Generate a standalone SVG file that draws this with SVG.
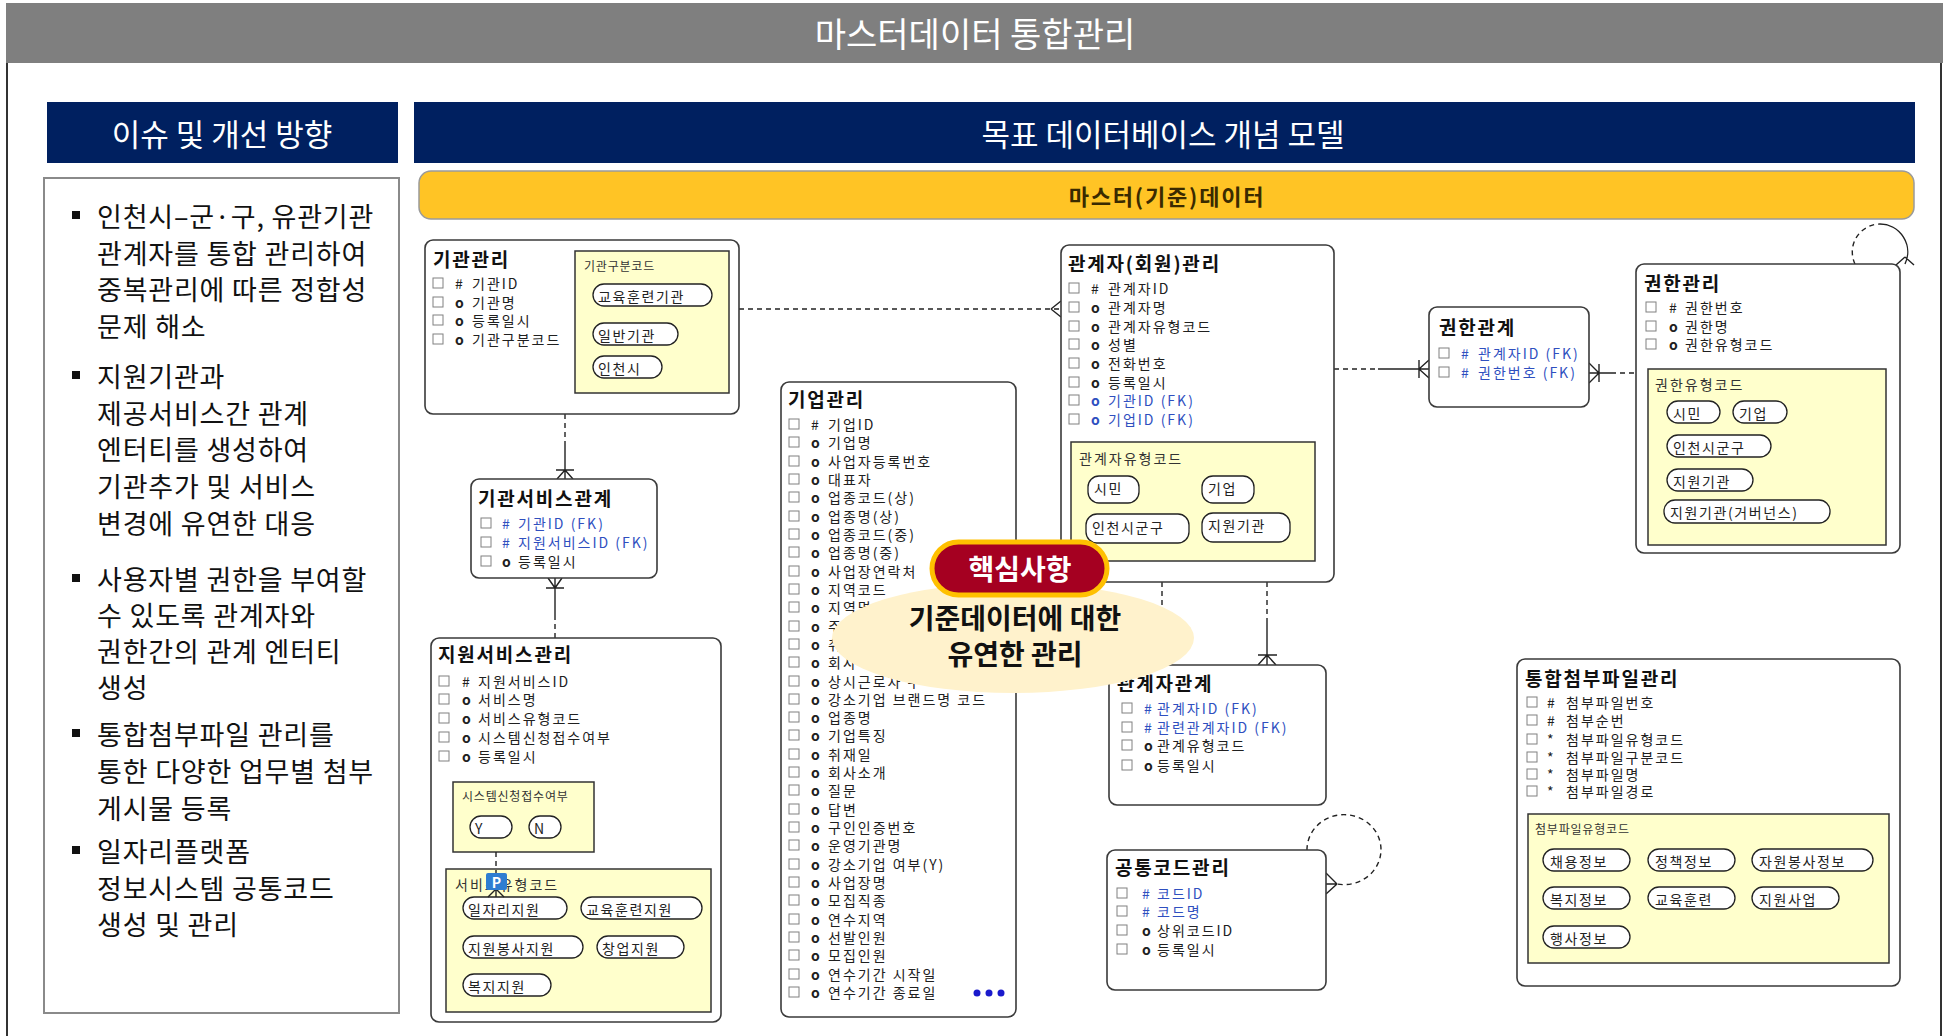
<svg xmlns="http://www.w3.org/2000/svg" width="1951" height="1036" viewBox="0 0 1951 1036">
<defs>
<style>
text{font-family:"Noto Sans CJK KR","Noto Sans",sans-serif;dominant-baseline:central}
.ent{fill:#fff;stroke:#3a3a3a;stroke-width:1.6}
.sub{fill:#FFFFCC;stroke:#333;stroke-width:1.5}
.pill{fill:#fff;stroke:#222;stroke-width:1.3}
.cb{fill:#fff;stroke:#808080;stroke-width:1}
.et{font-size:19px;font-weight:bold;letter-spacing:1.8px;fill:#111}
.at{font-size:14px;letter-spacing:2px;fill:#202020}
.fk{fill:#2F4FBF}
.mk{font-weight:bold}
.sl{font-size:12px;letter-spacing:0.8px;fill:#333}
.sl2{font-size:14px;letter-spacing:2px;fill:#333}
.pt{font-size:14px;letter-spacing:1.6px;fill:#222}
.ln{stroke:#222;stroke-width:1.4;fill:none}
.dl{stroke-dasharray:5 4}
.bul{font-size:27px;letter-spacing:0.8px;fill:#111}
.hd{fill:#fff}
</style>
</defs>

<!-- frame and headers -->
<rect x="7" y="62" width="1934" height="990" fill="#fff" stroke="#333" stroke-width="2"/>
<rect x="6" y="3" width="1937" height="60" fill="#7F7F7F"/>
<text class="hd" x="975" y="32" font-size="34" text-anchor="middle">마스터데이터 통합관리</text>
<rect x="47" y="102" width="351" height="61" fill="#002060"/>
<text class="hd" x="222" y="132" font-size="31" text-anchor="middle">이슈 및 개선 방향</text>
<rect x="414" y="102" width="1501" height="61" fill="#002060"/>
<text class="hd" x="1163" y="132" font-size="31" text-anchor="middle">목표 데이터베이스 개념 모델</text>
<rect x="419" y="171" width="1495" height="48" rx="12" fill="#FFC425" stroke="#9a9a9a" stroke-width="1.5"/>
<text x="1167" y="195" font-size="22" font-weight="bold" letter-spacing="1.8" fill="#3a2a00" text-anchor="middle">마스터(기준)데이터</text>

<!-- left issue box -->
<g id="issues">
<rect x="44" y="178" width="355" height="835" fill="#fff" stroke="#8a8a8a" stroke-width="2"/>
<rect x="72" y="211" width="8" height="8" fill="#111"/>
<text class="bul" x="97" y="215">인천시–군·구, 유관기관</text>
<text class="bul" x="97" y="252">관계자를 통합 관리하여</text>
<text class="bul" x="97" y="288">중복관리에 따른 정합성</text>
<text class="bul" x="97" y="325">문제 해소</text>
<rect x="72" y="371" width="8" height="8" fill="#111"/>
<text class="bul" x="97" y="375">지원기관과</text>
<text class="bul" x="97" y="412">제공서비스간 관계</text>
<text class="bul" x="97" y="448">엔터티를 생성하여</text>
<text class="bul" x="97" y="485">기관추가 및 서비스</text>
<text class="bul" x="97" y="522">변경에 유연한 대응</text>
<rect x="72" y="574" width="8" height="8" fill="#111"/>
<text class="bul" x="97" y="578">사용자별 권한을 부여할</text>
<text class="bul" x="97" y="614">수 있도록 관계자와</text>
<text class="bul" x="97" y="650">권한간의 관계 엔터티</text>
<text class="bul" x="97" y="686">생성</text>
<rect x="72" y="729" width="8" height="8" fill="#111"/>
<text class="bul" x="97" y="733">통합첨부파일 관리를</text>
<text class="bul" x="97" y="770">통한 다양한 업무별 첨부</text>
<text class="bul" x="97" y="807">게시물 등록</text>
<rect x="72" y="846" width="8" height="8" fill="#111"/>
<text class="bul" x="97" y="850">일자리플랫폼</text>
<text class="bul" x="97" y="887">정보시스템 공통코드</text>
<text class="bul" x="97" y="923">생성 및 관리</text>
</g>

<!-- connectors -->
<g id="connectors">
<path class="ln dl" d="M565,414 V443"/>
<path class="ln" d="M565,443 V479 M556,470 H574 M565,470 L557,479 M565,470 L573,479"/>
<path class="ln" d="M555,578 V615 M546,588 H564 M548,578 L555,588 M562,578 L555,588"/>
<path class="ln dl" d="M555,615 V638"/>
<path class="ln dl" d="M739,309 H1061"/>
<path class="ln" d="M1051,309 L1061,301 M1051,309 L1061,317"/>
<path class="ln dl" d="M1334,369 H1378"/>
<path class="ln" d="M1378,369 H1429 M1419,360 V378 M1419,369 L1429,360 M1419,369 L1429,378"/>
<path class="ln" d="M1589,373 H1611 M1599,364 V382 M1589,363 L1599,373 M1589,383 L1599,373"/>
<path class="ln dl" d="M1611,373 H1636"/>
<path class="ln dl" d="M1162,582 V665"/>
<path class="ln dl" d="M1267,582 V622"/>
<path class="ln" d="M1267,622 V665 M1258,655 H1277 M1267,655 L1258,665 M1267,655 L1276,665"/>
<path class="ln dl" d="M1855,264 A28,28 0 0 1 1880,224"/>
<path class="ln" d="M1880,224 A28,28 0 0 1 1905,264 M1905,257 L1896,265 M1905,257 L1914,265"/>
<path class="ln dl" d="M1307,850 A37,35 0 1 1 1337,884"/>
<path class="ln" d="M1326,873 L1337,884 M1326,884 H1337 M1326,894 L1337,884"/>
<path class="ln dl" d="M496,852 V873"/>
<path class="ln" d="M496,889 V897 M496,889 L488,897 M496,889 L504,897"/>
</g>

<!-- 기관관리 -->
<g id="n-gigwan">
<rect class="ent" x="425" y="240" width="314" height="174" rx="8"/>
<text class="et" x="433" y="258">기관관리</text>
<rect class="cb" x="433" y="278" width="10" height="10"/><text class="at" y="283"><tspan x="455">#</tspan><tspan x="472">기관ID</tspan></text>
<rect class="cb" x="433" y="297" width="10" height="10"/><text class="at" y="302"><tspan class="mk" x="455">o</tspan><tspan x="472">기관명</tspan></text>
<rect class="cb" x="433" y="315" width="10" height="10"/><text class="at" y="320"><tspan class="mk" x="455">o</tspan><tspan x="472">등록일시</tspan></text>
<rect class="cb" x="433" y="334" width="10" height="10"/><text class="at" y="339"><tspan class="mk" x="455">o</tspan><tspan x="472">기관구분코드</tspan></text>
<rect class="sub" x="575" y="251" width="154" height="142"/>
<text class="sl" x="584" y="265">기관구분코드</text>
<rect class="pill" x="593" y="284" width="119" height="22" rx="11"/><text class="pt" x="598" y="296">교육훈련기관</text>
<rect class="pill" x="593" y="323" width="85" height="22" rx="11"/><text class="pt" x="598" y="335">일반기관</text>
<rect class="pill" x="593" y="356" width="69" height="22" rx="11"/><text class="pt" x="598" y="368">인천시</text>
</g>

<!-- 기관서비스관계 -->
<g id="n-gigwanservice">
<rect class="ent" x="471" y="479" width="186" height="99" rx="8"/>
<text class="et" x="478" y="497">기관서비스관계</text>
<rect class="cb" x="481" y="518" width="10" height="10"/><text class="at fk" y="523"><tspan x="502">#</tspan><tspan x="518">기관ID (FK)</tspan></text>
<rect class="cb" x="481" y="537" width="10" height="10"/><text class="at fk" y="542"><tspan x="502">#</tspan><tspan x="518">지원서비스ID (FK)</tspan></text>
<rect class="cb" x="481" y="556" width="10" height="10"/><text class="at" y="561"><tspan class="mk" x="502">o</tspan><tspan x="518">등록일시</tspan></text>
</g>

<!-- 지원서비스관리 -->
<g id="n-service">
<rect class="ent" x="431" y="638" width="290" height="384" rx="8"/>
<text class="et" x="438" y="653">지원서비스관리</text>
<rect class="cb" x="439" y="676" width="10" height="10"/><text class="at" y="681"><tspan x="462">#</tspan><tspan x="478">지원서비스ID</tspan></text>
<rect class="cb" x="439" y="694" width="10" height="10"/><text class="at" y="699"><tspan class="mk" x="462">o</tspan><tspan x="478">서비스명</tspan></text>
<rect class="cb" x="439" y="713" width="10" height="10"/><text class="at" y="718"><tspan class="mk" x="462">o</tspan><tspan x="478">서비스유형코드</tspan></text>
<rect class="cb" x="439" y="732" width="10" height="10"/><text class="at" y="737"><tspan class="mk" x="462">o</tspan><tspan x="478">시스템신청접수여부</tspan></text>
<rect class="cb" x="439" y="751" width="10" height="10"/><text class="at" y="756"><tspan class="mk" x="462">o</tspan><tspan x="478">등록일시</tspan></text>
<rect class="sub" x="453" y="782" width="141" height="70"/>
<text class="sl" x="462" y="795">시스템신청접수여부</text>
<rect class="pill" x="470" y="816" width="42" height="22" rx="11"/><text class="pt" x="475" y="828">Y</text>
<rect class="pill" x="529" y="816" width="32" height="22" rx="11"/><text class="pt" x="534" y="828">N</text>
<rect class="sub" x="446" y="869" width="265" height="143"/>
<text class="sl2" x="455" y="884">서비스유형코드</text>
<rect class="pill" x="463" y="897" width="104" height="22" rx="11"/><text class="pt" x="468" y="909">일자리지원</text>
<rect class="pill" x="581" y="897" width="121" height="22" rx="11"/><text class="pt" x="586" y="909">교육훈련지원</text>
<rect class="pill" x="463" y="936" width="120" height="22" rx="11"/><text class="pt" x="468" y="948">지원봉사지원</text>
<rect class="pill" x="597" y="936" width="87" height="22" rx="11"/><text class="pt" x="602" y="948">창업지원</text>
<rect class="pill" x="463" y="974" width="88" height="22" rx="11"/><text class="pt" x="468" y="986">복지지원</text>
<path class="ln dl" d="M496,852 V873"/>
<path class="ln" d="M496,889 V897 M496,889 L488,897 M496,889 L504,897"/>
<rect x="486" y="873" width="21" height="17" rx="2" fill="#2E7DD1"/>
<text x="496.5" y="882" font-size="14" font-weight="bold" fill="#fff" text-anchor="middle">P</text>
</g>

<!-- 기업관리 -->
<g id="n-company">
<rect class="ent" x="781" y="382" width="235" height="635" rx="8"/>
<text class="et" x="788" y="398">기업관리</text>
<rect class="cb" x="789" y="419" width="10" height="10"/><text class="at" y="424"><tspan x="811">#</tspan><tspan x="828">기업ID</tspan></text>
<rect class="cb" x="789" y="437" width="10" height="10"/><text class="at" y="442.3"><tspan class="mk" x="811">o</tspan><tspan x="828">기업명</tspan></text>
<rect class="cb" x="789" y="456" width="10" height="10"/><text class="at" y="460.6"><tspan class="mk" x="811">o</tspan><tspan x="828">사업자등록번호</tspan></text>
<rect class="cb" x="789" y="474" width="10" height="10"/><text class="at" y="479"><tspan class="mk" x="811">o</tspan><tspan x="828">대표자</tspan></text>
<rect class="cb" x="789" y="492" width="10" height="10"/><text class="at" y="497.3"><tspan class="mk" x="811">o</tspan><tspan x="828">업종코드(상)</tspan></text>
<rect class="cb" x="789" y="511" width="10" height="10"/><text class="at" y="515.6"><tspan class="mk" x="811">o</tspan><tspan x="828">업종명(상)</tspan></text>
<rect class="cb" x="789" y="529" width="10" height="10"/><text class="at" y="533.9"><tspan class="mk" x="811">o</tspan><tspan x="828">업종코드(중)</tspan></text>
<rect class="cb" x="789" y="547" width="10" height="10"/><text class="at" y="552.2"><tspan class="mk" x="811">o</tspan><tspan x="828">업종명(중)</tspan></text>
<rect class="cb" x="789" y="566" width="10" height="10"/><text class="at" y="570.6"><tspan class="mk" x="811">o</tspan><tspan x="828">사업장연락처</tspan></text>
<rect class="cb" x="789" y="584" width="10" height="10"/><text class="at" y="588.9"><tspan class="mk" x="811">o</tspan><tspan x="828">지역코드</tspan></text>
<rect class="cb" x="789" y="602" width="10" height="10"/><text class="at" y="607.2"><tspan class="mk" x="811">o</tspan><tspan x="828">지역명</tspan></text>
<rect class="cb" x="789" y="621" width="10" height="10"/><text class="at" y="625.5"><tspan class="mk" x="811">o</tspan><tspan x="828">주소</tspan></text>
<rect class="cb" x="789" y="639" width="10" height="10"/><text class="at" y="643.8"><tspan class="mk" x="811">o</tspan><tspan x="828">취업</tspan></text>
<rect class="cb" x="789" y="657" width="10" height="10"/><text class="at" y="662.2"><tspan class="mk" x="811">o</tspan><tspan x="828">회사</tspan></text>
<rect class="cb" x="789" y="676" width="10" height="10"/><text class="at" y="680.5"><tspan class="mk" x="811">o</tspan><tspan x="828">상시근로자 수</tspan></text>
<rect class="cb" x="789" y="694" width="10" height="10"/><text class="at" y="698.8"><tspan class="mk" x="811">o</tspan><tspan x="828">강소기업 브랜드명 코드</tspan></text>
<rect class="cb" x="789" y="712" width="10" height="10"/><text class="at" y="717.1"><tspan class="mk" x="811">o</tspan><tspan x="828">업종명</tspan></text>
<rect class="cb" x="789" y="730" width="10" height="10"/><text class="at" y="735.4"><tspan class="mk" x="811">o</tspan><tspan x="828">기업특징</tspan></text>
<rect class="cb" x="789" y="749" width="10" height="10"/><text class="at" y="753.8"><tspan class="mk" x="811">o</tspan><tspan x="828">취재일</tspan></text>
<rect class="cb" x="789" y="767" width="10" height="10"/><text class="at" y="772.1"><tspan class="mk" x="811">o</tspan><tspan x="828">회사소개</tspan></text>
<rect class="cb" x="789" y="785" width="10" height="10"/><text class="at" y="790.4"><tspan class="mk" x="811">o</tspan><tspan x="828">질문</tspan></text>
<rect class="cb" x="789" y="804" width="10" height="10"/><text class="at" y="808.7"><tspan class="mk" x="811">o</tspan><tspan x="828">답변</tspan></text>
<rect class="cb" x="789" y="822" width="10" height="10"/><text class="at" y="827"><tspan class="mk" x="811">o</tspan><tspan x="828">구인인증번호</tspan></text>
<rect class="cb" x="789" y="840" width="10" height="10"/><text class="at" y="845.4"><tspan class="mk" x="811">o</tspan><tspan x="828">운영기관명</tspan></text>
<rect class="cb" x="789" y="859" width="10" height="10"/><text class="at" y="863.7"><tspan class="mk" x="811">o</tspan><tspan x="828">강소기업 여부(Y)</tspan></text>
<rect class="cb" x="789" y="877" width="10" height="10"/><text class="at" y="882"><tspan class="mk" x="811">o</tspan><tspan x="828">사업장명</tspan></text>
<rect class="cb" x="789" y="895" width="10" height="10"/><text class="at" y="900.3"><tspan class="mk" x="811">o</tspan><tspan x="828">모집직종</tspan></text>
<rect class="cb" x="789" y="914" width="10" height="10"/><text class="at" y="918.6"><tspan class="mk" x="811">o</tspan><tspan x="828">연수지역</tspan></text>
<rect class="cb" x="789" y="932" width="10" height="10"/><text class="at" y="937"><tspan class="mk" x="811">o</tspan><tspan x="828">선발인원</tspan></text>
<rect class="cb" x="789" y="950" width="10" height="10"/><text class="at" y="955.3"><tspan class="mk" x="811">o</tspan><tspan x="828">모집인원</tspan></text>
<rect class="cb" x="789" y="969" width="10" height="10"/><text class="at" y="973.6"><tspan class="mk" x="811">o</tspan><tspan x="828">연수기간 시작일</tspan></text>
<rect class="cb" x="789" y="987" width="10" height="10"/><text class="at" y="992"><tspan class="mk" x="811">o</tspan><tspan x="828">연수기간 종료일</tspan></text>
<circle cx="977" cy="993" r="3.5" fill="#1A1ACC"/><circle cx="989" cy="993" r="3.5" fill="#1A1ACC"/><circle cx="1001" cy="993" r="3.5" fill="#1A1ACC"/>
</g>

<!-- 관계자(회원)관리 -->
<g id="n-member">
<rect class="ent" x="1061" y="245" width="273" height="337" rx="8"/>
<text class="et" x="1068" y="262">관계자(회원)관리</text>
<rect class="cb" x="1069" y="283" width="10" height="10"/><text class="at" y="288"><tspan x="1091">#</tspan><tspan x="1108">관계자ID</tspan></text>
<rect class="cb" x="1069" y="302" width="10" height="10"/><text class="at" y="307"><tspan class="mk" x="1091">o</tspan><tspan x="1108">관계자명</tspan></text>
<rect class="cb" x="1069" y="321" width="10" height="10"/><text class="at" y="326"><tspan class="mk" x="1091">o</tspan><tspan x="1108">관계자유형코드</tspan></text>
<rect class="cb" x="1069" y="339" width="10" height="10"/><text class="at" y="344"><tspan class="mk" x="1091">o</tspan><tspan x="1108">성별</tspan></text>
<rect class="cb" x="1069" y="358" width="10" height="10"/><text class="at" y="363"><tspan class="mk" x="1091">o</tspan><tspan x="1108">전화번호</tspan></text>
<rect class="cb" x="1069" y="377" width="10" height="10"/><text class="at" y="382"><tspan class="mk" x="1091">o</tspan><tspan x="1108">등록일시</tspan></text>
<rect class="cb" x="1069" y="395" width="10" height="10"/><text class="at fk" y="400"><tspan class="mk" x="1091">o</tspan><tspan x="1108">기관ID (FK)</tspan></text>
<rect class="cb" x="1069" y="414" width="10" height="10"/><text class="at fk" y="419"><tspan class="mk" x="1091">o</tspan><tspan x="1108">기업ID (FK)</tspan></text>
<rect class="sub" x="1071" y="442" width="244" height="119"/>
<text class="sl2" x="1079" y="458">관계자유형코드</text>
<rect class="pill" x="1088" y="476" width="51" height="27" rx="11"/><text class="pt" x="1094" y="488">시민</text>
<rect class="pill" x="1202" y="476" width="52" height="27" rx="11"/><text class="pt" x="1208" y="488">기업</text>
<rect class="pill" x="1086" y="514" width="103" height="29" rx="11"/><text class="pt" x="1092" y="527">인천시군구</text>
<rect class="pill" x="1202" y="513" width="88" height="29" rx="11"/><text class="pt" x="1208" y="525">지원기관</text>
</g>

<!-- 권한관계 -->
<g id="n-authrel">
<rect class="ent" x="1429" y="307" width="160" height="100" rx="8"/>
<text class="et" x="1439" y="326" font-size="21" letter-spacing="1">권한관계</text>
<rect class="cb" x="1439" y="348" width="10" height="10"/><text class="at fk" y="353" letter-spacing="1.5"><tspan x="1461">#</tspan><tspan x="1478">관계자ID (FK)</tspan></text>
<rect class="cb" x="1439" y="367" width="10" height="10"/><text class="at fk" y="372" letter-spacing="1.5"><tspan x="1461">#</tspan><tspan x="1478">권한번호 (FK)</tspan></text>
</g>

<!-- 권한관리 -->
<g id="n-auth">
<rect class="ent" x="1636" y="264" width="264" height="289" rx="8"/>
<text class="et" x="1644" y="282">권한관리</text>
<rect class="cb" x="1646" y="302" width="10" height="10"/><text class="at" y="307"><tspan x="1669">#</tspan><tspan x="1685">권한번호</tspan></text>
<rect class="cb" x="1646" y="321" width="10" height="10"/><text class="at" y="326"><tspan class="mk" x="1669">o</tspan><tspan x="1685">권한명</tspan></text>
<rect class="cb" x="1646" y="339" width="10" height="10"/><text class="at" y="344"><tspan class="mk" x="1669">o</tspan><tspan x="1685">권한유형코드</tspan></text>
<rect class="sub" x="1648" y="369" width="238" height="176"/>
<text class="sl2" x="1655" y="384">권한유형코드</text>
<rect class="pill" x="1667" y="401" width="53" height="22" rx="11"/><text class="pt" x="1673" y="413">시민</text>
<rect class="pill" x="1733" y="401" width="54" height="22" rx="11"/><text class="pt" x="1739" y="413">기업</text>
<rect class="pill" x="1667" y="435" width="104" height="22" rx="11"/><text class="pt" x="1673" y="447">인천시군구</text>
<rect class="pill" x="1667" y="469" width="86" height="22" rx="11"/><text class="pt" x="1673" y="481">지원기관</text>
<rect class="pill" x="1664" y="500" width="166" height="23" rx="11"/><text class="pt" x="1670" y="512" letter-spacing="2.3">지원기관(거버넌스)</text>
</g>

<!-- 관계자관계 -->
<g id="n-memberrel">
<rect class="ent" x="1109" y="665" width="217" height="140" rx="8"/>
<text class="et" x="1117" y="682">관계자관계</text>
<rect class="cb" x="1122" y="703" width="10" height="10"/><text class="at fk" y="708"><tspan x="1144">#</tspan><tspan x="1157">관계자ID (FK)</tspan></text>
<rect class="cb" x="1122" y="722" width="10" height="10"/><text class="at fk" y="727"><tspan x="1144">#</tspan><tspan x="1157">관련관계자ID (FK)</tspan></text>
<rect class="cb" x="1122" y="740" width="10" height="10"/><text class="at" y="745"><tspan class="mk" x="1144">o</tspan><tspan x="1157">관계유형코드</tspan></text>
<rect class="cb" x="1122" y="760" width="10" height="10"/><text class="at" y="765"><tspan class="mk" x="1144">o</tspan><tspan x="1157">등록일시</tspan></text>
</g>

<!-- 공통코드관리 -->
<g id="n-code">
<rect class="ent" x="1107" y="850" width="219" height="140" rx="8"/>
<text class="et" x="1115" y="866">공통코드관리</text>
<rect class="cb" x="1117" y="888" width="10" height="10"/><text class="at fk" y="893"><tspan x="1142">#</tspan><tspan x="1157">코드ID</tspan></text>
<rect class="cb" x="1117" y="906" width="10" height="10"/><text class="at fk" y="911"><tspan x="1142">#</tspan><tspan x="1157">코드명</tspan></text>
<rect class="cb" x="1117" y="925" width="10" height="10"/><text class="at" y="930"><tspan class="mk" x="1142">o</tspan><tspan x="1157">상위코드ID</tspan></text>
<rect class="cb" x="1117" y="944" width="10" height="10"/><text class="at" y="949"><tspan class="mk" x="1142">o</tspan><tspan x="1157">등록일시</tspan></text>
</g>

<!-- 통합첨부파일관리 -->
<g id="n-file">
<rect class="ent" x="1517" y="659" width="383" height="327" rx="8"/>
<text class="et" x="1525" y="677">통합첨부파일관리</text>
<rect class="cb" x="1527" y="697" width="10" height="10"/><text class="at" y="702"><tspan x="1547">#</tspan><tspan x="1566">첨부파일번호</tspan></text>
<rect class="cb" x="1527" y="715" width="10" height="10"/><text class="at" y="720"><tspan x="1547">#</tspan><tspan x="1566">첨부순번</tspan></text>
<rect class="cb" x="1527" y="734" width="10" height="10"/><text class="at" y="739"><tspan x="1547">*</tspan><tspan x="1566">첨부파일유형코드</tspan></text>
<rect class="cb" x="1527" y="752" width="10" height="10"/><text class="at" y="757" font-size="12" letter-spacing="0.7"><tspan x="1547">*</tspan><tspan x="1566">첨부파일구분코드</tspan></text>
<rect class="cb" x="1527" y="769" width="10" height="10"/><text class="at" y="774" font-size="12" letter-spacing="0.7"><tspan x="1547">*</tspan><tspan x="1566">첨부파일명</tspan></text>
<rect class="cb" x="1527" y="786" width="10" height="10"/><text class="at" y="791" font-size="12" letter-spacing="0.7"><tspan x="1547">*</tspan><tspan x="1566">첨부파일경로</tspan></text>
<rect class="sub" x="1528" y="814" width="361" height="149"/>
<text class="sl" x="1535" y="828">첨부파일유형코드</text>
<rect class="pill" x="1543" y="849" width="87" height="22" rx="11"/><text class="pt" x="1550" y="861">채용정보</text>
<rect class="pill" x="1648" y="849" width="87" height="22" rx="11"/><text class="pt" x="1655" y="861">정책정보</text>
<rect class="pill" x="1752" y="849" width="121" height="22" rx="11"/><text class="pt" x="1759" y="861">자원봉사정보</text>
<rect class="pill" x="1543" y="887" width="87" height="22" rx="11"/><text class="pt" x="1550" y="899">복지정보</text>
<rect class="pill" x="1648" y="887" width="87" height="22" rx="11"/><text class="pt" x="1655" y="899">교육훈련</text>
<rect class="pill" x="1752" y="887" width="87" height="22" rx="11"/><text class="pt" x="1759" y="899">지원사업</text>
<rect class="pill" x="1543" y="926" width="87" height="22" rx="11"/><text class="pt" x="1550" y="938">행사정보</text>
</g>

<!-- callout -->
<g id="callout">
<ellipse cx="1013" cy="638" rx="181" ry="55" fill="#FFF2CC"/>
<text font-size="28" font-weight="bold" fill="#111" text-anchor="middle"><tspan x="1015" y="617">기준데이터에 대한</tspan><tspan x="1015" y="653">유연한 관리</tspan></text>
<rect x="932" y="542" width="175" height="53" rx="26.5" fill="#A50021" stroke="#FFC000" stroke-width="5"/>
<text x="1020" y="568" font-size="28" font-weight="bold" fill="#fff" text-anchor="middle">핵심사항</text>
</g>
</svg>
